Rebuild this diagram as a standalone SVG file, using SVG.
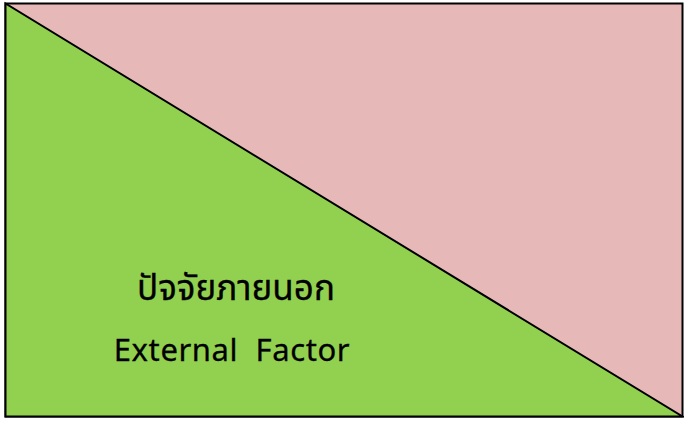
<svg xmlns="http://www.w3.org/2000/svg" width="684" height="422" viewBox="0 0 684 422">
<style>
.t{font-family:"Noto Sans","Noto Sans Thai","DejaVu Sans",sans-serif;fill:#000;text-anchor:middle}
</style>
<rect width="684" height="422" fill="#fff"/>
<g id="external">
<rect x="5.5" y="3.5" width="677" height="413" fill="#E6B8B7" stroke="#000" stroke-width="2"/>
<polygon points="5.5,3.5 5.5,416.5 682.5,416.5" fill="#92D050" stroke="#000" stroke-width="2"/>
<text class="t" x="236" y="300" font-size="35" stroke="#000" stroke-width="0.3">ปัจจัยภายนอก</text>
<text class="t" x="232" y="361" font-size="31" letter-spacing="0.6" stroke="#000" stroke-width="0.3" xml:space="preserve">External  Factor</text>
</g>
</svg>
